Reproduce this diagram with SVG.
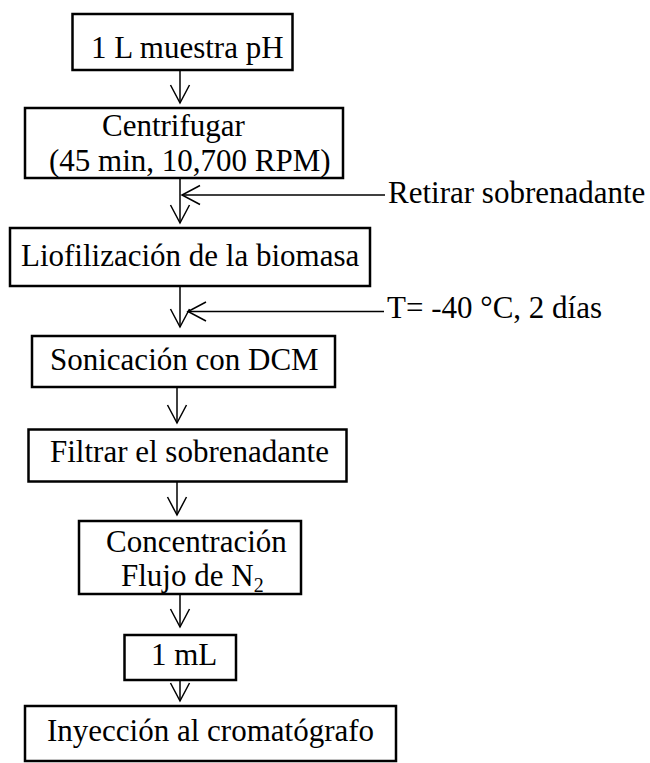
<svg xmlns="http://www.w3.org/2000/svg" width="650" height="763" viewBox="0 0 650 763">
<style>
  .box { fill: #fff; stroke: #000; stroke-width: 2.5; }
  .t { font-family: "Liberation Serif", "Times New Roman", serif; font-size: 31px; fill: #000; }
  .c { fill: none; stroke: #000; stroke-width: 1.5; }
</style>
<defs>
  <marker id="ah" markerUnits="userSpaceOnUse" markerWidth="24" markerHeight="24" viewBox="-20 -12 24 24" refX="0" refY="0" orient="auto" overflow="visible">
    <path d="M-18,-9.5 L0,0 L-18,9.5" fill="none" stroke="#000" stroke-width="1.5"/>
  </marker>
</defs>
<rect width="650" height="763" fill="#fff"/>
<g id="connectors">
  <line class="c" x1="180" y1="70" x2="180" y2="103" marker-end="url(#ah)"/>
  <line class="c" x1="180" y1="178" x2="180" y2="223" marker-end="url(#ah)"/>
  <line class="c" x1="385" y1="195" x2="182" y2="195" marker-end="url(#ah)"/>
  <line class="c" x1="180" y1="286" x2="180" y2="327" marker-end="url(#ah)"/>
  <line class="c" x1="384" y1="311.5" x2="188" y2="311.5" marker-end="url(#ah)"/>
  <line class="c" x1="177" y1="387" x2="177" y2="423" marker-end="url(#ah)"/>
  <line class="c" x1="177" y1="481" x2="177" y2="515" marker-end="url(#ah)"/>
  <line class="c" x1="180" y1="594" x2="180" y2="627" marker-end="url(#ah)"/>
  <line class="c" x1="180" y1="680" x2="180" y2="701" marker-end="url(#ah)"/>
</g>
<g id="n1">
  <rect class="box" x="72.5" y="14" width="220" height="56"/>
  <text class="t" x="91" y="58">1 L muestra pH</text>
</g>
<g id="n2">
  <rect class="box" x="25" y="108" width="318" height="70"/>
  <text class="t"><tspan x="102" y="136">Centrifugar</tspan><tspan x="49" y="170.5">(45 min, 10,700 RPM)</tspan></text>
</g>
<g id="n3">
  <rect class="box" x="10" y="228" width="360" height="58"/>
  <text class="t" x="21" y="266">Liofilización de la biomasa</text>
</g>
<g id="n4">
  <rect class="box" x="32" y="336" width="303" height="51"/>
  <text class="t" x="50" y="370">Sonicación con DCM</text>
</g>
<g id="n5">
  <rect class="box" x="28.5" y="429.5" width="318" height="52"/>
  <text class="t" x="50" y="462">Filtrar el sobrenadante</text>
</g>
<g id="n6">
  <rect class="box" x="79" y="521" width="222" height="73"/>
  <text class="t"><tspan x="106" y="552">Concentración</tspan><tspan x="121" y="586">Flujo de N</tspan><tspan font-size="20" dy="6">2</tspan></text>
</g>
<g id="n7">
  <rect class="box" x="124.5" y="635" width="111.5" height="45"/>
  <text class="t" x="151" y="665">1 mL</text>
</g>
<g id="n8">
  <rect class="box" x="25" y="706" width="371" height="55"/>
  <text class="t" x="47" y="741">Inyección al cromatógrafo</text>
</g>
<g id="labels">
  <text class="t" x="388" y="203">Retirar sobrenadante</text>
  <text class="t" x="387" y="318">T= -40 °C, 2 días</text>
</g>
</svg>
